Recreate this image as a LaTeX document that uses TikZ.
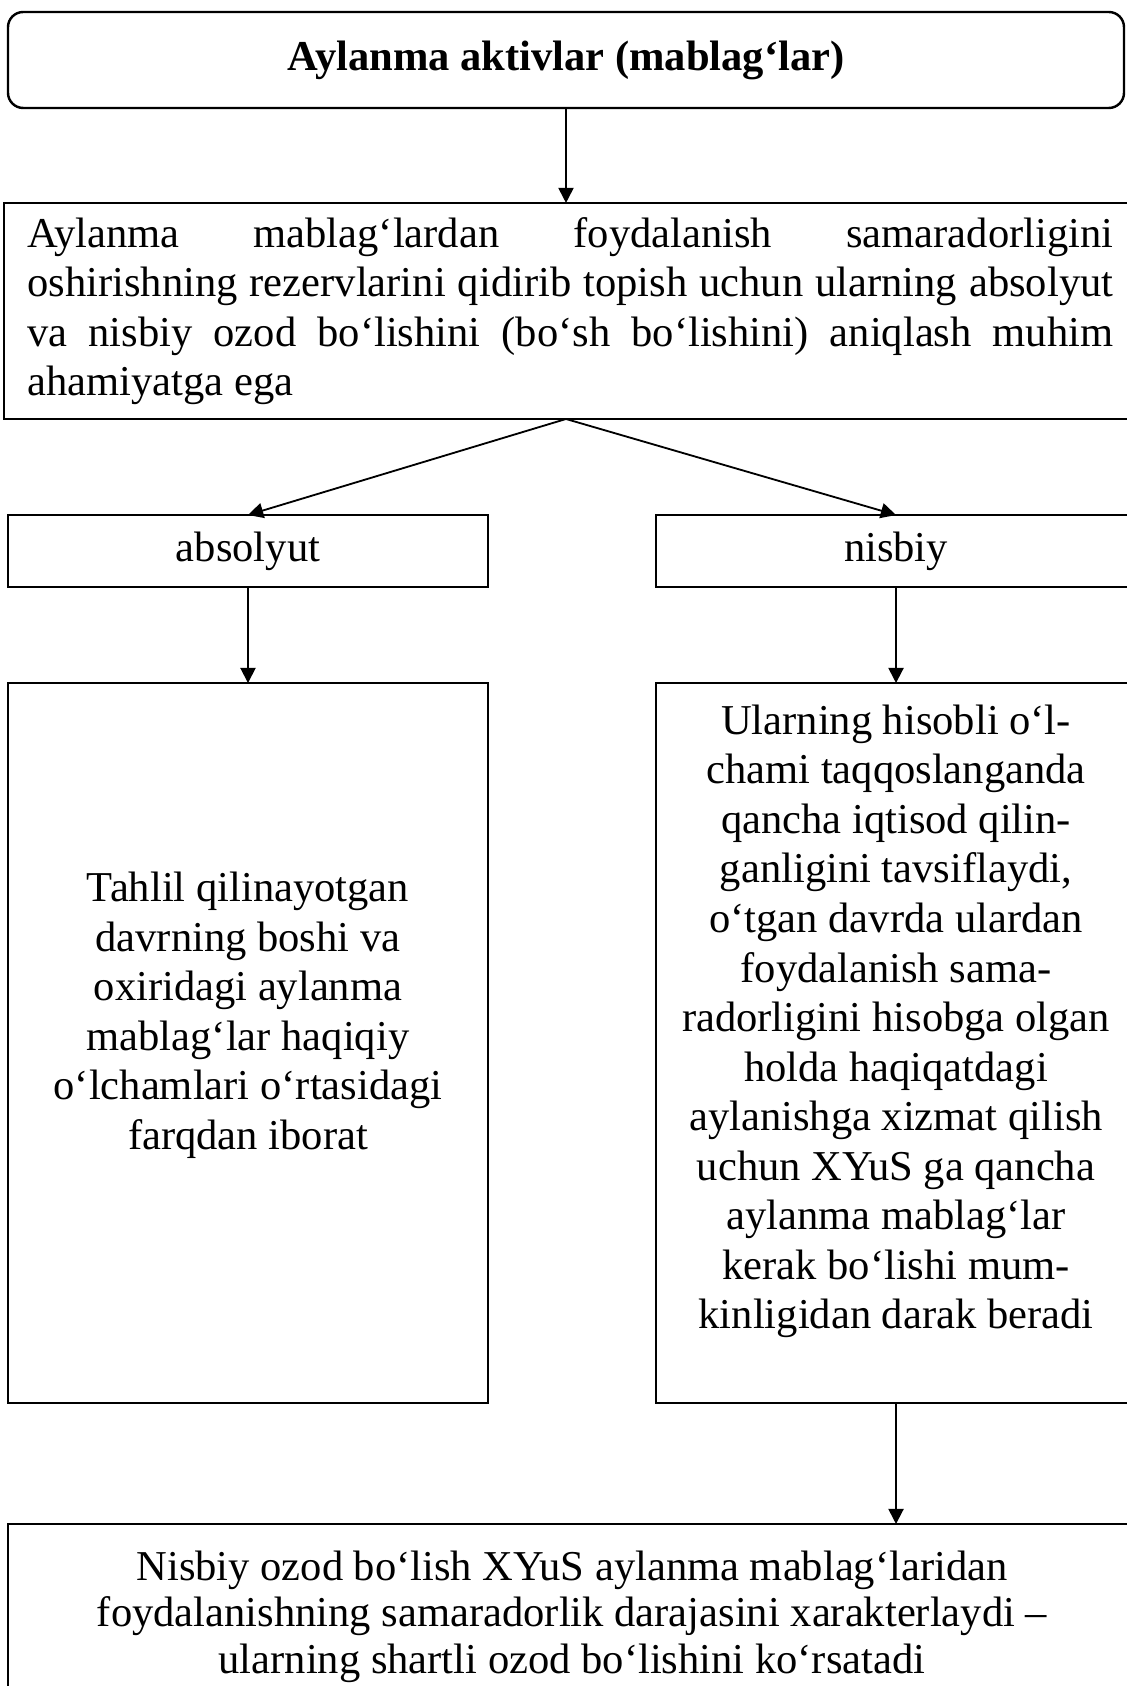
\documentclass[tikz,border=0pt]{standalone}
\usepackage{fontspec}
\setmainfont{Liberation Serif}
\usetikzlibrary{arrows.meta, positioning}
\tikzset{
	headbox/.style={rectangle, rounded corners=5pt, draw=black, line width=0.8pt, outer sep=0pt, minimum width=12.904cm, minimum height=1.110cm, align=center, font=\fontsize{14pt}{16.3pt}\selectfont\bfseries},
	textbox/.style={rectangle, draw=black, line width=0.8pt, outer sep=0pt, align=center},
	smallbox/.style={textbox, minimum width=5.550cm, minimum height=0.833cm},
	tallbox/.style={textbox, minimum width=5.550cm, minimum height=8.325cm},
	desctext/.style={align=center, inner sep=0pt},
	flowarrow/.style={-{Triangle[length=5pt, width=5pt]}, line width=0.6pt},
}

\begin{document}
\begin{tikzpicture}[every node/.style={font=\fontsize{14pt}{16.3pt}\selectfont}]
	\useasboundingbox (0,0) rectangle (13.020,-19.495);
	\node[headbox, anchor=north west] (head) at (0.0925,-0.1388) {Aylanma aktivlar (mablag‘lar)};
	\node[textbox, align=justify, text width=12.557cm, inner xsep=0.27cm, minimum height=2.498cm, below=1.098cm of head.south west, anchor=north west, xshift=-0.046cm] (main) {Aylanma mablag‘lardan foydalanish samaradorligini\linebreak oshirishning rezervlarini qidirib topish uchun ularning absolyut\linebreak va nisbiy ozod bo‘lishini (bo‘sh bo‘lishini) aniqlash muhim\linebreak ahamiyatga ega};
	\node[smallbox, below=1.110cm of main.south west, anchor=north west, xshift=0.046cm] (abs) {absolyut};
	\node[smallbox, right=1.943cm of abs] (nis) {nisbiy};
	\node[tallbox, below=1.110cm of abs] (absdesc) {};
	\node[tallbox, below=1.110cm of nis] (nisdesc) {};
	\node[desctext] (abstext) at ([yshift=0.32cm]absdesc.center) {Tahlil qilinayotgan\\ davrning boshi va\\ oxiridagi aylanma\\ mablag‘lar haqiqiy\\ o‘lchamlari o‘rtasidagi\\ farqdan iborat};
	\node[desctext] (nistext) at ([yshift=0.25cm]nisdesc.center) {Ularning hisobli o‘l-\\ chami taqqoslanganda\\ qancha iqtisod qilin-\\ ganligini tavsiflaydi,\\ o‘tgan davrda ulardan\\ foydalanish sama-\\ radorligini hisobga olgan\\ holda haqiqatdagi\\ aylanishga xizmat qilish\\ uchun XYuS ga qancha\\ aylanma mablag‘lar\\ kerak bo‘lishi mum-\\ kinligidan darak beradi};
	\node[textbox, minimum width=13.043cm, minimum height=2.706cm, below=1.399cm of absdesc.south west, anchor=north west] (concl) {};
	\node[desctext, font=\fontsize{14pt}{15.3pt}\selectfont, below=0.30cm of concl.north] (concltext) {Nisbiy ozod bo‘lish XYuS aylanma mablag‘laridan\\ foydalanishning samaradorlik darajasini xarakterlaydi –\\ ularning shartli ozod bo‘lishini ko‘rsatadi};
	\coordinate (split) at (head.south |- main.south);
	\draw[flowarrow] (head.south) -- (head.south |- main.north);
	\draw[flowarrow] (split) -- (abs.north); \draw[flowarrow] (split) -- (nis.north);
	\draw[flowarrow] (abs) -- (absdesc); \draw[flowarrow] (nis) -- (nisdesc);
	\draw[flowarrow] (nisdesc.south) -- (nisdesc.south |- concl.north);
\end{tikzpicture}
\end{document}
